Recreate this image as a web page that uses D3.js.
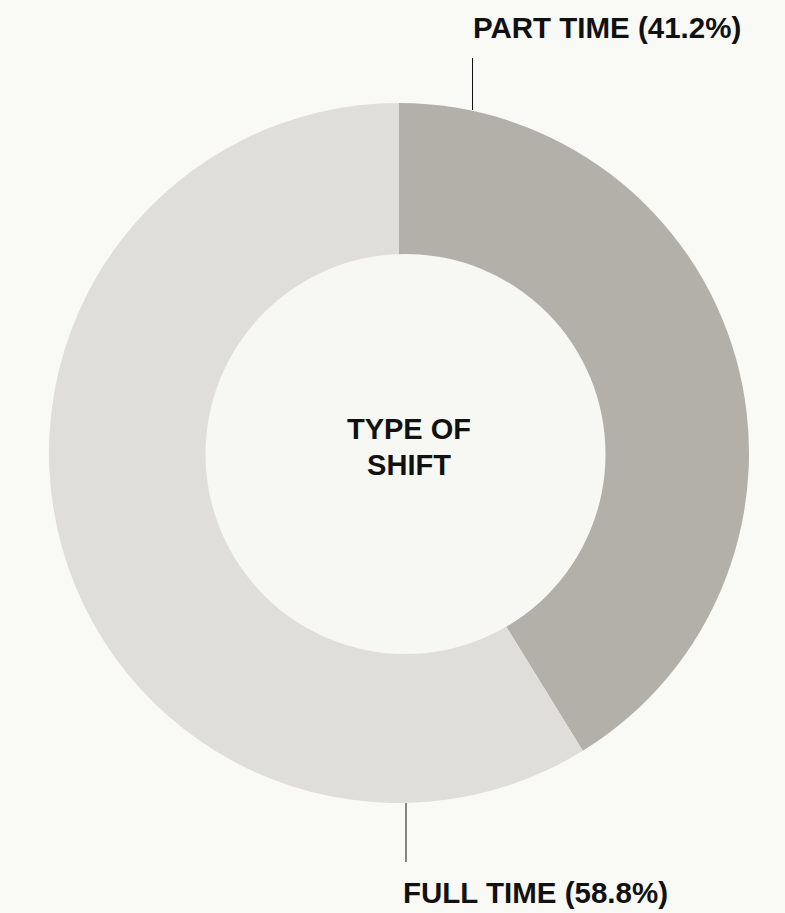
<!DOCTYPE html>
<html>
<head>
<meta charset="utf-8">
<script src="https://cdn.jsdelivr.net/npm/d3@7"></script>
<style>
  html, body { margin: 0; padding: 0; background: #f9f9f6; }
  svg { display: block; }
  text { font-family: "Liberation Sans", Arial, Helvetica, sans-serif; font-weight: bold; fill: #111; }
</style>
</head>
<body>
<svg id="chart" width="785" height="913"></svg>
<script>
// Shift types and their shares (%)
const categories = ["PART TIME", "FULL TIME"];
const shares = [41.2, 58.8];
const sliceColors = ["#b3b0a9", "#dfdedb"];
const centerLines = ["TYPE OF", "SHIFT"];

const svg = d3.select("#chart");
const cx = 399, cy = 453, outerR = 350;
const holeCx = 405.5, holeCy = 454, holeR = 200;

const data = categories.map((c, i) => ({ name: c, value: shares[i], color: sliceColors[i] }));

const pie = d3.pie().value(d => d.value).sort(null);
const arc = d3.arc().innerRadius(0).outerRadius(outerR);
const arcs = pie(data);

const g = svg.append("g").attr("transform", `translate(${cx},${cy})`);
g.selectAll("path.slice")
  .data(arcs)
  .join("path")
  .attr("class", "slice")
  .attr("d", arc)
  .attr("fill", d => d.data.color);

// Hole in the middle
svg.append("circle")
  .attr("cx", holeCx).attr("cy", holeCy).attr("r", holeR)
  .attr("fill", "#f7f7f4");

// Center title
const title = svg.append("text")
  .attr("x", 409).attr("y", 439)
  .attr("text-anchor", "middle")
  .style("font-size", "29px");
title.selectAll("tspan")
  .data(centerLines)
  .join("tspan")
  .attr("x", 409)
  .attr("dy", (d, i) => i === 0 ? 0 : 36)
  .text(d => d);

// Callout labels with leader lines
const fmt = d => `${d.data.name} (${d3.format(".1f")(d.data.value)}%)`;
const callouts = [
  { arc: arcs[0], lineX: 472.5, y1: 58, y2: 110, textX: 473, textY: 38 },
  { arc: arcs[1], lineX: 406, y1: 803, y2: 862, textX: 403, textY: 903 }
];
callouts.forEach(c => {
  svg.append("line")
    .attr("x1", c.lineX).attr("x2", c.lineX)
    .attr("y1", c.y1).attr("y2", c.y2)
    .attr("stroke", "#111").attr("stroke-width", 1);
  svg.append("text")
    .attr("x", c.textX).attr("y", c.textY)
    .style("font-size", "29.5px")
    .text(fmt(c.arc));
});
</script>
</body>
</html>
